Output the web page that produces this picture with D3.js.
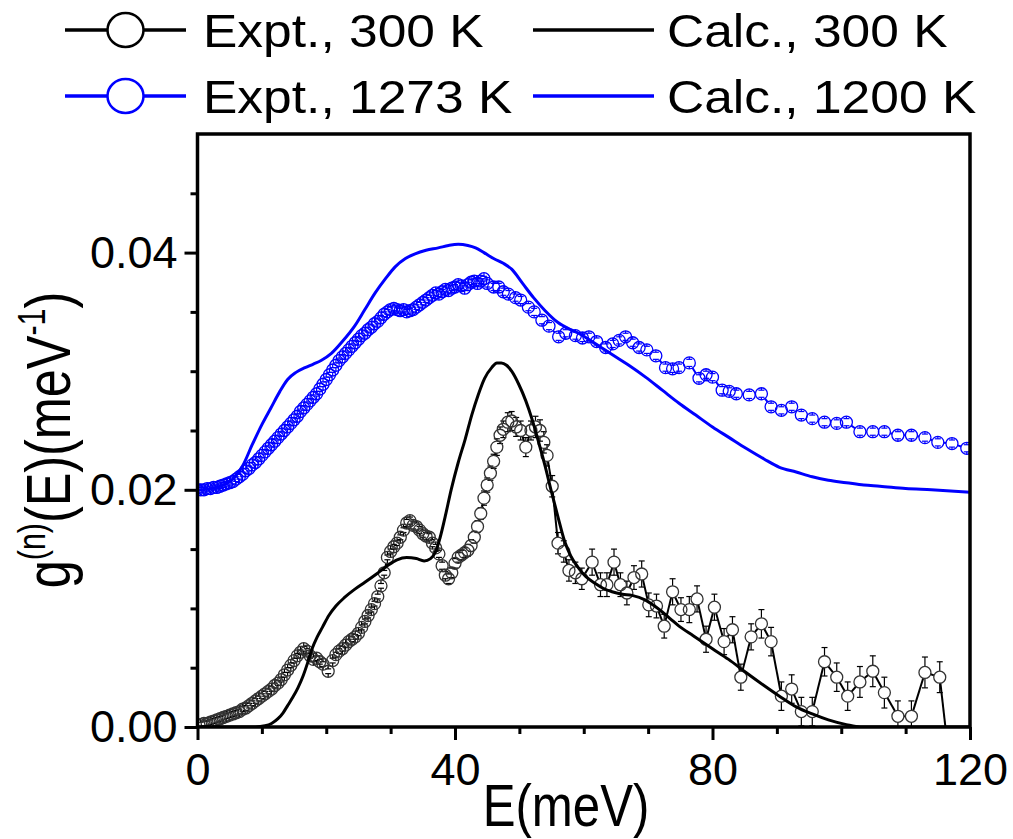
<!DOCTYPE html>
<html><head><meta charset="utf-8">
<script src="https://cdn.jsdelivr.net/npm/d3@7"></script>
<style>body{margin:0;background:#fff}svg{display:block}text{font-family:"Liberation Sans",Arial,Helvetica,sans-serif;fill:#000}</style>
</head><body><svg id="c" width="1013" height="839"></svg>
<script>
// ---------- data ----------
const xTicksMajor=[0,40,80,120];
const xTicksMinor=[10,20,30,50,60,70,90,100,110];
const yTicksMajor=[0,0.02,0.04];
const yTicksMinor=[0.005,0.01,0.015,0.025,0.03,0.035,0.045];
const legendLabels=["Expt., 300 K","Calc., 300 K","Expt., 1273 K","Calc., 1200 K"];
const xTitle="E(meV)";

// Expt., 300 K : [E (meV), g, error]
const expt300=[
[0.5,0.0002,0.0002],[1,0.0003,0.0002],[1.5,0.0003,0.0002],[2,0.0004,0.0002],[2.5,0.0005,0.0002],[3,0.0006,0.0002],
[3.5,0.0007,0.0002],[4,0.0008,0.0002],[4.5,0.0009,0.0002],[5,0.0010,0.0002],[5.5,0.0011,0.0002],[6,0.0012,0.0002],
[6.5,0.0013,0.0002],[7,0.0015,0.0002],[7.5,0.0016,0.0002],[8,0.0018,0.0002],[8.5,0.0020,0.0002],[9,0.0022,0.0002],
[9.5,0.0024,0.0002],[10,0.0026,0.0002],[10.5,0.0028,0.0002],[11,0.0030,0.0002],[11.5,0.0032,0.0002],[12,0.0035,0.0002],
[12.5,0.0037,0.0002],[13,0.0040,0.0002],[13.5,0.0044,0.0002],[14,0.0048,0.0002],[14.5,0.0052,0.0002],[15,0.0056,0.0002],
[15.5,0.0060,0.0002],[16,0.0063,0.0002],[16.5,0.0066,0.0002],[17,0.0064,0.0002],[17.5,0.0060,0.0002],[18,0.0057,0.0002],
[18.5,0.0058,0.0002],[19,0.0055,0.0002],[19.5,0.0053,0.0002],[20.3,0.0047,0.0002],[21,0.0056,0.0002],[21.5,0.0061,0.0002],
[22,0.0064,0.0002],[22.5,0.0066,0.0002],[23,0.0069,0.0002],[23.5,0.0072,0.0002],[24,0.0074,0.0002],[24.5,0.0076,0.0002],
[25,0.0079,0.0002],[25.5,0.0084,0.0002],[26,0.0089,0.0002],[26.5,0.0094,0.0002],[27,0.0099,0.0002],[27.5,0.0104,0.0002],
[28,0.0110,0.0002],[28.5,0.0119,0.0002],[29,0.0130,0.0002],[29.5,0.0143,0.0002],[30,0.0148,0.0002],[30.5,0.0152,0.0002],
[31,0.0155,0.0002],[31.5,0.0160,0.0002],[32,0.0166,0.0002],[32.5,0.0172,0.0003],[33,0.0174,0.0003],[33.5,0.0170,0.0003],
[34,0.0169,0.0003],[34.5,0.0166,0.0003],[35,0.0163,0.0003],[35.5,0.0161,0.0003],[36,0.0160,0.0003],[36.5,0.0155,0.0003],
[37,0.0151,0.0003],[37.5,0.0146,0.0003],[38,0.0136,0.0003],[38.5,0.0128,0.0003],[39,0.0125,0.0004],[39.5,0.0130,0.0004],
[40,0.0138,0.0004],[40.5,0.0143,0.0004],[41,0.0145,0.0004],[41.5,0.0147,0.0004],[42,0.0149,0.0005],[42.5,0.0153,0.0005],
[43,0.0160,0.0005],[43.5,0.0169,0.0005],[44,0.0180,0.0005],[44.5,0.0193,0.0006],[45,0.0204,0.0006],[45.5,0.0214,0.0006],
[46,0.0224,0.0006],[46.5,0.0236,0.0007],[47,0.0246,0.0007],[47.5,0.0251,0.0007],[48.2,0.0257,0.0008],[48.8,0.0258,0.0008],
[49.5,0.0253,0.0008],[50.2,0.0250,0.0008],[51,0.0236,0.0008],[51.8,0.0250,0.0008],[52.5,0.0253,0.0009],[53.2,0.0250,0.0009],
[53.8,0.0240,0.0009],[54.3,0.0229,0.0009],[55.1,0.0203,0.0009],[56,0.0155,0.0009],[56.9,0.0148,0.0009],[57.7,0.0132,0.0009],
[58.7,0.0130,0.0009],[59.7,0.0125,0.0009],[61.3,0.0139,0.0011],[62.6,0.0120,0.0010],[63.6,0.0120,0.0010],[64.7,0.0139,0.0011],
[65.7,0.0120,0.0010],[66.7,0.0113,0.0010],[67.8,0.0126,0.0010],[69,0.0129,0.0011],[70.1,0.0103,0.0010],[71.3,0.0102,0.0010],
[72.5,0.0085,0.0010],[73.8,0.0114,0.0011],[75.1,0.0099,0.0010],[76.4,0.0099,0.0011],[77.6,0.0108,0.0011],[79,0.0074,0.0011],
[80.3,0.0101,0.0011],[81.8,0.0072,0.0011],[83.1,0.0082,0.0011],[84.4,0.0042,0.0011],[86,0.0076,0.0011],[87.6,0.0087,0.0012],
[89.1,0.0072,0.0012],[90.7,0.0026,0.0012],[92.3,0.0032,0.0012],[93.8,0.0013,0.0012],[95.5,0.0013,0.0012],[97.4,0.0055,0.0012],
[99.3,0.0042,0.0012],[101,0.0026,0.0012],[102.9,0.0038,0.0013],[104.9,0.0047,0.0013],[106.7,0.0029,0.0013],[108.8,0.0009,0.0013],
[110.9,0.0009,0.0013],[113,0.0046,0.0013],[115.3,0.0042,0.0013],[116.6,-0.0020,0.0013]
];

// Expt., 1273 K : [E (meV), g, error]
const expt1273=[
[0,0.0200,0.0002],[0.5,0.0200,0.0002],[1,0.0200,0.0002],[1.5,0.0201,0.0002],[2,0.0201,0.0002],[2.5,0.0202,0.0002],
[3,0.0202,0.0002],[3.5,0.0203,0.0002],[4,0.0204,0.0002],[4.5,0.0205,0.0002],[5,0.0206,0.0002],[5.5,0.0207,0.0002],
[6,0.0209,0.0002],[6.5,0.0211,0.0002],[7,0.0213,0.0002],[7.5,0.0216,0.0002],[8,0.0218,0.0002],[8.5,0.0221,0.0002],
[9,0.0223,0.0002],[9.5,0.0226,0.0002],[10,0.0229,0.0002],[10.5,0.0232,0.0002],[11,0.0235,0.0002],[11.5,0.0238,0.0002],
[12,0.0241,0.0002],[12.5,0.0244,0.0002],[13,0.0247,0.0002],[13.5,0.0250,0.0002],[14,0.0253,0.0002],[14.5,0.0256,0.0002],
[15,0.0259,0.0002],[15.5,0.0262,0.0002],[16,0.0266,0.0002],[16.5,0.0269,0.0002],[17,0.0272,0.0002],[17.5,0.0275,0.0002],
[18,0.0278,0.0002],[18.5,0.0281,0.0002],[19,0.0285,0.0002],[19.5,0.0289,0.0002],[20,0.0293,0.0002],[20.5,0.0297,0.0002],
[21,0.0301,0.0002],[21.5,0.0305,0.0002],[22,0.0309,0.0002],[22.5,0.0312,0.0002],[23,0.0315,0.0002],[23.5,0.0318,0.0002],
[24,0.0321,0.0002],[24.5,0.0324,0.0002],[25,0.0327,0.0002],[25.5,0.0330,0.0002],[26,0.0332,0.0002],[26.5,0.0335,0.0002],
[27,0.0337,0.0002],[27.5,0.0340,0.0002],[28,0.0342,0.0002],[28.5,0.0345,0.0002],[29,0.0348,0.0002],[29.5,0.0350,0.0002],
[30,0.0352,0.0002],[30.5,0.0353,0.0002],[31,0.0352,0.0002],[31.5,0.0351,0.0002],[32,0.0352,0.0002],[32.5,0.0350,0.0002],
[33,0.0351,0.0002],[33.5,0.0352,0.0002],[34,0.0354,0.0002],[34.5,0.0356,0.0002],[35,0.0358,0.0002],[35.5,0.0360,0.0002],
[36,0.0362,0.0002],[36.5,0.0364,0.0002],[37,0.0366,0.0002],[37.5,0.0365,0.0002],[38,0.0367,0.0002],[38.5,0.0369,0.0002],
[39,0.0368,0.0002],[39.5,0.0370,0.0002],[40,0.0371,0.0002],[40.5,0.0373,0.0002],[41,0.0372,0.0002],[41.5,0.0370,0.0002],
[42,0.0373,0.0002],[42.5,0.0375,0.0002],[43,0.0376,0.0002],[43.5,0.0374,0.0002],[44,0.0376,0.0002],[44.5,0.0378,0.0002],
[45,0.0374,0.0003],[46,0.0371,0.0003],[46.8,0.0371,0.0003],[47.5,0.0367,0.0003],[48.3,0.0365,0.0003],[49.4,0.0362,0.0003],
[50.2,0.0360,0.0003],[51.4,0.0354,0.0003],[52.3,0.0350,0.0003],[53.5,0.0343,0.0003],[54.6,0.0338,0.0003],[56.1,0.0329,0.0003],
[57.2,0.0332,0.0003],[58.7,0.0330,0.0003],[59.8,0.0328,0.0003],[60.8,0.0329,0.0003],[62,0.0325,0.0003],[63.4,0.0320,0.0003],
[64.5,0.0323,0.0003],[65.5,0.0326,0.0003],[66.5,0.0329,0.0003],[67.6,0.0324,0.0003],[68.6,0.0320,0.0003],[69.8,0.0318,0.0003],
[71.2,0.0313,0.0003],[72.7,0.0303,0.0003],[73.8,0.0302,0.0003],[74.8,0.0303,0.0003],[76.4,0.0307,0.0003],[77.9,0.0294,0.0003],
[79,0.0297,0.0003],[80,0.0295,0.0003],[81.5,0.0284,0.0003],[82.6,0.0283,0.0003],[83.7,0.0281,0.0003],[85.7,0.0280,0.0003],
[87.6,0.0281,0.0003],[89.1,0.0270,0.0003],[90.7,0.0267,0.0003],[92.3,0.0270,0.0003],[93.8,0.0263,0.0003],[95.5,0.0260,0.0003],
[97.4,0.0257,0.0003],[99.3,0.0256,0.0003],[100.8,0.0257,0.0003],[102.9,0.0249,0.0003],[104.9,0.0249,0.0003],[106.7,0.0249,0.0003],
[108.8,0.0246,0.0003],[110.9,0.0246,0.0003],[113,0.0244,0.0003],[115,0.0240,0.0003],[117.2,0.0239,0.0003],[119.5,0.0235,0.0003]
];

// Calc., 300 K : [E, g]
const calc300=[
[0,0],[5,0],[9,0],[10.5,0.0001],[11.5,0.0003],[12.5,0.0007],[13.3,0.0012],[14,0.0018],[14.8,0.0025],[15.6,0.0033],
[16.4,0.0043],[17.1,0.0054],[17.8,0.0066],[18.6,0.0076],[19.4,0.0084],[20.4,0.0094],[21.5,0.0102],[22.8,0.0109],
[24.4,0.0116],[26,0.0122],[27.8,0.0129],[29.5,0.0136],[31,0.0141],[32.5,0.0143],[34,0.0142],[35.2,0.0140],[36.2,0.0142],
[37,0.0148],[37.7,0.0160],[38.5,0.0178],[39.4,0.0200],[40.5,0.0223],[41.6,0.0243],[42.6,0.0263],[43.6,0.0280],[44.6,0.0294],
[45.7,0.0303],[46.5,0.0307],[47.2,0.0307],[48,0.0305],[48.8,0.0300],[49.9,0.0289],[51,0.0275],[52,0.0259],[53,0.0240],
[54,0.0220],[55,0.0198],[56,0.0177],[57,0.0157],[58,0.0144],[59.2,0.0134],[60.3,0.0127],[61.8,0.0121],[63,0.0117],
[64.4,0.0114],[66,0.0112],[67.5,0.0111],[69.6,0.0107],[71,0.0102],[72.2,0.0097],[73.5,0.0091],[74.8,0.0085],[77,0.0077],
[80,0.0066],[82.5,0.0057],[85.2,0.0046],[88,0.0035],[90.4,0.0026],[93,0.0017],[95.5,0.0011],[98,0.0006],[100.8,0.0002],
[103,0],[120,0]
];

// Calc., 1200 K : [E, g]
const calc1200=[
[0,0.0200],[2,0.0201],[4,0.0204],[5.5,0.0209],[7,0.0220],[8.5,0.0238],[10,0.0255],[11.4,0.0269],[12.8,0.0283],[14,0.0293],
[15.3,0.0299],[16.7,0.0303],[18,0.0306],[19.2,0.0309],[20.8,0.0315],[22.5,0.0325],[24.4,0.0338],[26,0.0352],[27.6,0.0366],
[29.2,0.0378],[30.7,0.0388],[32.3,0.0395],[33.8,0.0399],[35.5,0.0402],[37.4,0.0404],[39,0.0406],[40.5,0.0407],[42,0.0406],
[43.2,0.0404],[44.5,0.0400],[46,0.0395],[47.5,0.0391],[48.8,0.0386],[50.5,0.0374],[52.2,0.0362],[54,0.0351],[56,0.0341],
[58,0.0335],[59.2,0.0332],[61,0.0326],[62.7,0.0320],[64.4,0.0314],[67,0.0305],[69.6,0.0295],[72.2,0.0284],[74.8,0.0273],
[77.4,0.0263],[80,0.0253],[82.6,0.0244],[85.2,0.0235],[88,0.0226],[90.4,0.0219],[93,0.0215],[95.5,0.0211],[98,0.0208],
[100.8,0.0206],[103.5,0.0204],[106,0.0203],[110,0.0201],[114,0.0200],[120,0.0198]
];

// ---------- drawing ----------
const svg=d3.select("#c");
const L=197.5,R=970,T=134,B=727;
const x=d3.scaleLinear().domain([0,120]).range([L,R]);
const y=d3.scaleLinear().domain([0,0.05]).range([B,T]);
const BLUE="#0000ff";
const r=6;

svg.append("defs").append("clipPath").attr("id","clip")
  .append("rect").attr("x",L).attr("y",T).attr("width",R-L).attr("height",B-T);
const gp=svg.append("g").attr("clip-path","url(#clip)");

function drawExpt(data,color,circColor){
  const g=gp.append("g");
  const pts=data.map(d=>({cx:x(d[0]),cy:y(d[1]),e:Math.abs(y(d[1]-d[2])-y(d[1]))}));
  const segs=[];
  for(let i=1;i<pts.length;i++){
    const a=pts[i-1],b=pts[i];
    const dx=b.cx-a.cx,dy=b.cy-a.cy,dist=Math.hypot(dx,dy);
    if(dist>2*r+0.5){const ux=dx/dist,uy=dy/dist;
      segs.push([a.cx+ux*r,a.cy+uy*r,b.cx-ux*r,b.cy-uy*r]);}
  }
  g.append("g").selectAll("line").data(segs).join("line")
    .attr("x1",d=>d[0]).attr("y1",d=>d[1]).attr("x2",d=>d[2]).attr("y2",d=>d[3])
    .attr("stroke",color).attr("stroke-width",2);
  const eb=g.append("g").attr("stroke",color).attr("stroke-width",1.2);
  pts.forEach(p=>{
    [-1,1].forEach(s=>{
      eb.append("line").attr("x1",p.cx).attr("x2",p.cx).attr("y1",p.cy+s*r).attr("y2",p.cy+s*p.e);
      eb.append("line").attr("x1",p.cx-3).attr("x2",p.cx+3).attr("y1",p.cy+s*p.e).attr("y2",p.cy+s*p.e);
    });
  });
  g.append("g").selectAll("circle").data(pts).join("circle")
    .attr("cx",d=>d.cx).attr("cy",d=>d.cy).attr("r",r)
    .attr("fill","none").attr("stroke",circColor).attr("stroke-width",1.3);
}
drawExpt(expt1273,BLUE,BLUE);
drawExpt(expt300,"#000","#333");

const line=d3.line().x(d=>x(d[0])).y(d=>y(d[1])).curve(d3.curveMonotoneX);
gp.append("path").datum(calc300).attr("d",line).attr("fill","none").attr("stroke","#000").attr("stroke-width",3);
gp.append("path").datum(calc1200).attr("d",line).attr("fill","none").attr("stroke",BLUE).attr("stroke-width",3);

// axes
function styleAxis(g){
  g.select(".domain").remove();
  g.selectAll(".tick line").attr("stroke","#000").attr("stroke-width",3);
  g.selectAll(".tick text").attr("font-size",45).attr("fill","#000")
    .attr("font-family",'"Liberation Sans",Arial,sans-serif');
}
svg.append("g").attr("transform",`translate(0,${B})`)
  .call(d3.axisBottom(x).tickValues(xTicksMinor).tickSize(7).tickFormat("")).call(styleAxis);
svg.append("g").attr("transform",`translate(0,${B})`)
  .call(d3.axisBottom(x).tickValues(xTicksMajor).tickSize(13).tickPadding(13).tickFormat(d3.format("d"))).call(styleAxis);
svg.append("g").attr("transform",`translate(${L},0)`)
  .call(d3.axisLeft(y).tickValues(yTicksMinor).tickSize(7).tickFormat("")).call(styleAxis);
svg.append("g").attr("transform",`translate(${L},0)`)
  .call(d3.axisLeft(y).tickValues(yTicksMajor).tickSize(13).tickPadding(7).tickFormat(d3.format(".2f"))).call(styleAxis);

svg.append("rect").attr("x",L).attr("y",T).attr("width",R-L).attr("height",B-T)
  .attr("fill","none").attr("stroke","#000").attr("stroke-width",3.5);

// axis titles
svg.append("text").attr("transform","translate(566,826) scale(0.82,1)")
  .attr("text-anchor","middle").attr("font-size",60).text(xTitle);
const yt=svg.append("text").attr("transform","translate(70,440) rotate(-90) scale(0.8,1)")
  .attr("text-anchor","middle").attr("font-size",63);
yt.append("tspan").text("g");
yt.append("tspan").attr("font-size",38).attr("dy",-25).text("(n)");
yt.append("tspan").attr("dy",25).text("(E)(meV");
yt.append("tspan").attr("font-size",38).attr("dy",-25).text("-1");
yt.append("tspan").attr("dy",25).text(")");

// legend
const legend=[
  {x1:65,x2:186,ly:30,color:"#000",sym:true,tx:203,ty:47,label:legendLabels[0]},
  {x1:533,x2:654,ly:30,color:"#000",sym:false,tx:667,ty:47,label:legendLabels[1]},
  {x1:65,x2:186,ly:96,color:BLUE,sym:true,tx:203,ty:113,label:legendLabels[2]},
  {x1:533,x2:654,ly:96,color:BLUE,sym:false,tx:667,ty:113,label:legendLabels[3]}
];
legend.forEach(l=>{
  svg.append("line").attr("x1",l.x1).attr("x2",l.x2).attr("y1",l.ly).attr("y2",l.ly)
    .attr("stroke",l.color).attr("stroke-width",3.5);
  if(l.sym){
    svg.append("ellipse").attr("cx",(l.x1+l.x2)/2).attr("cy",l.ly).attr("rx",18).attr("ry",17)
      .attr("fill","#fff").attr("stroke",l.color).attr("stroke-width",2.5);
  }
  svg.append("text").attr("transform",`translate(${l.tx},${l.ty}) scale(1.12,1)`)
    .attr("font-size",46).text(l.label);
});
</script></body></html>
